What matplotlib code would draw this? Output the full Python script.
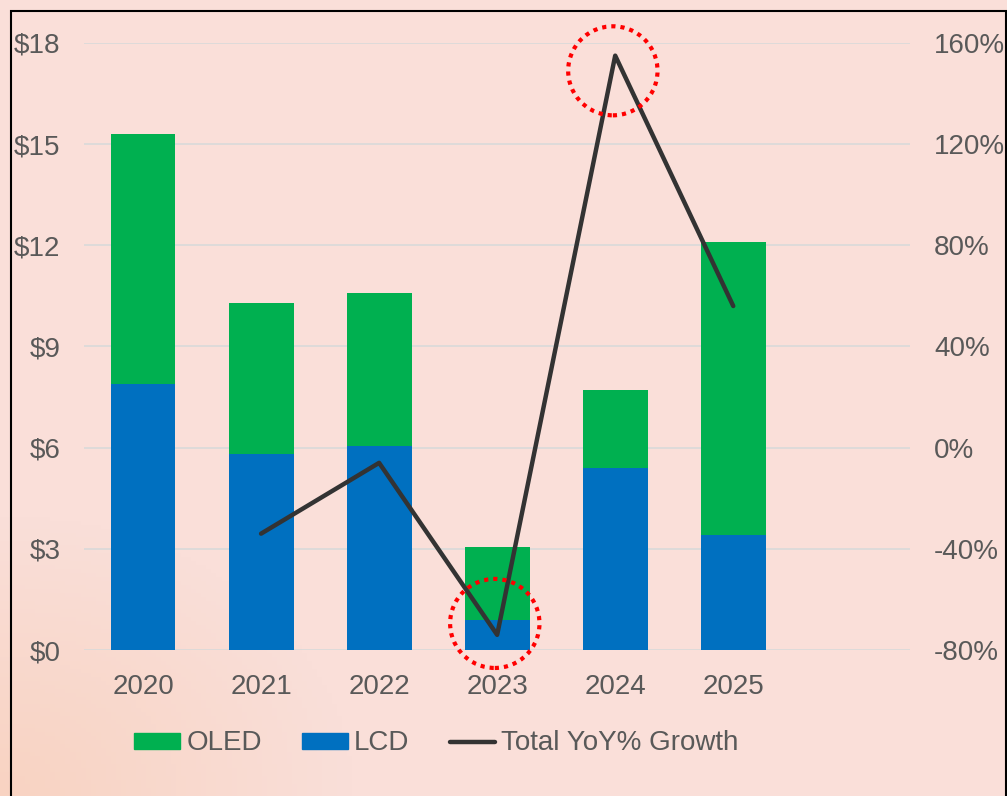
import numpy as np
import matplotlib
matplotlib.use('Agg')
import matplotlib.pyplot as plt
from matplotlib.patches import Ellipse, Rectangle
from matplotlib.lines import Line2D
from matplotlib.patches import Patch

# chart data
years = ['2020', '2021', '2022', '2023', '2024', '2025']
lcd = [7.9, 5.8, 6.05, 0.9, 5.4, 3.4]
oled = [7.4, 4.5, 4.55, 2.15, 2.3, 8.7]
growth_years = ['2021', '2022', '2023', '2024', '2025']
growth = [-34, -6, -74, 155, 56]
highlight_years = ['2023', '2024']

bg = '#FADFD9'
txt = '#595959'
green = '#00B050'
blue = '#0070C0'

plt.rcParams['font.family'] = ['Liberation Sans', 'DejaVu Sans']

fig = plt.figure(figsize=(10.07, 7.96), dpi=100)
fig.patch.set_facecolor(bg)

# soft orange tint toward the bottom-left corner
bgax = fig.add_axes([0, 0, 1, 1], zorder=-10)
gy, gx = np.mgrid[0:1:200j, 0:1:200j]
dist = np.sqrt(gx ** 2 + gy ** 2)
w = np.clip(1 - dist / 0.35, 0, 1)[..., None]
c0 = np.array(matplotlib.colors.to_rgb(bg))
c1 = np.array(matplotlib.colors.to_rgb('#F8D3C2'))
img = c0 * (1 - w) + c1 * w
bgax.imshow(img, origin='lower', extent=[0, 1, 0, 1], aspect='auto')
bgax.axis('off')

ax = fig.add_axes([0.0834, 0.1834, 0.8206, 0.7626])
ax.set_facecolor('none')
x = np.arange(len(years))
ax.bar(x, lcd, width=0.55, color=blue, zorder=3)
ax.bar(x, oled, width=0.55, bottom=lcd, color=green, zorder=3)

ax.set_xlim(-0.5, 6.5)
ax.set_ylim(0, 18)
ax.set_yticks(np.arange(0, 19, 3))
ax.set_yticklabels([f'${v}' for v in range(0, 19, 3)])
ax.set_xticks(x)
ax.set_xticklabels(years)
ax.grid(True, axis='y', color='#D9D9D9', lw=1.2, zorder=0)
for s in ax.spines.values():
    s.set_visible(False)
ax.tick_params(axis='both', length=0, labelsize=20, labelcolor=txt)
ax.tick_params(axis='y', pad=17)
ax.tick_params(axis='x', pad=17)

ax2 = ax.twinx()
ax2.set_ylim(-80, 160)
ax2.set_yticks(np.arange(-80, 161, 40))
ax2.set_yticklabels([f'{v}%' for v in range(-80, 161, 40)])
for s in ax2.spines.values():
    s.set_visible(False)
ax2.tick_params(axis='y', length=0, labelsize=20, labelcolor=txt, pad=17)
gx_pos = [years.index(y) for y in growth_years]
ax2.plot(gx_pos, growth, color='#333333', lw=3.2, solid_capstyle='round',
         solid_joinstyle='round', zorder=4)

# red dotted circles around the extreme points
for yr in highlight_years:
    i = years.index(yr)
    g = growth[growth_years.index(yr)]
    cy = g + (4.5 if g < 0 else -6)
    e = Ellipse((i - 0.02, cy), width=0.757, height=2.64 * 240 / 18,
                fill=False, edgecolor='#FF0000', lw=3,
                linestyle=(0, (1, 1.2)), clip_on=False, zorder=5)
    ax2.add_patch(e)

handles = [Patch(color=green, label='OLED'),
           Patch(color=blue, label='LCD'),
           Line2D([0], [0], color='#333333', lw=3.2, solid_capstyle='round',
                  label='Total YoY% Growth')]
leg = fig.legend(handles=handles, loc='center', bbox_to_anchor=(0.4335, 0.066),
                 ncol=3, frameon=False, fontsize=20, handlelength=1.65,
                 handleheight=0.5, handletextpad=0.22, columnspacing=1.45,
                 labelcolor=txt)

# black border
fig.add_artist(Rectangle((10.5 / 1007, -0.02), 995 / 1007, 1.02 - 11.5 / 796,
                         transform=fig.transFigure, fill=False,
                         edgecolor='black', lw=1.5, clip_on=False))

fig.savefig('out.png', dpi=100, facecolor=fig.get_facecolor())
